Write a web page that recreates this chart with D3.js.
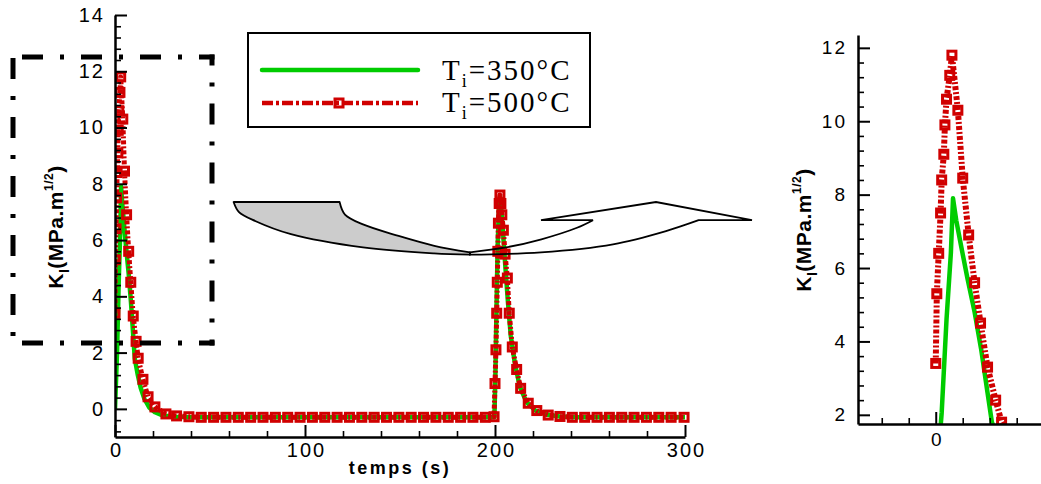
<!DOCTYPE html>
<html><head><meta charset="utf-8">
<script src="https://cdn.jsdelivr.net/npm/d3@7"></script>
<style>body{margin:0;background:#fff}svg{display:block}</style>
</head><body>
<svg id="c" width="1041" height="484"></svg>
<script>
// ---------------- data (time s, K_I MPa.m^1/2) ----------------
const redPeak1 = [[0,3.4],[0.2,5.3],[0.55,6.4],[0.9,7.5],[1.1,8.4],[1.5,9.1],[1.7,9.9],[2.0,10.6],[2.6,11.25],[3.0,11.8],
  [4.1,10.3],[5.0,8.45],[6.1,6.9],[7.2,5.6],[8.3,4.5],[9.6,3.3],[11.1,2.4],[12.2,1.8],[14.7,1.05],[17.4,0.43],[21.0,0.07],[26.8,-0.18],[32.4,-0.25]];
const redFlat1 = [[38.9,-0.28],[45.4,-0.3],[51.9,-0.3],[58.4,-0.3],[64.9,-0.3],[71.4,-0.3],[77.9,-0.3],[84.4,-0.3],[90.9,-0.3],[97.4,-0.3],
  [103.9,-0.3],[110.4,-0.3],[116.9,-0.3],[123.4,-0.3],[129.9,-0.3],[136.4,-0.3],[142.9,-0.3],[149.4,-0.3],[155.9,-0.3],[162.4,-0.3],
  [168.9,-0.3],[175.4,-0.3],[181.9,-0.3],[188.4,-0.3],[194.9,-0.3],[199.5,-0.28]];
const redPeak2 = [[200.0,0.9],[200.5,2.1],[200.9,3.4],[201.2,4.5],[201.5,5.6],[201.8,6.6],[202.2,7.3],[202.6,7.6],[203.1,7.3],[203.6,6.9],
  [204.4,6.35],[205.3,5.5],[206.5,4.65],[207.5,3.4],[209.1,2.2],[211.4,1.4],[213.5,0.73],[217.5,0.2],[222.0,-0.06],[228.0,-0.22],[234.2,-0.27]];
const redFlat2 = [[240.7,-0.3],[247.2,-0.3],[253.7,-0.3],[260.2,-0.3],[266.7,-0.3],[273.2,-0.3],[279.7,-0.3],[286.2,-0.3],[292.7,-0.3],[299.5,-0.3]];

const greenPeak1 = [[0,0],[1.1,2.05],[2.0,4.6],[2.8,6.4],[3.2,7.9],[3.8,7.3],[4.7,6.6],[5.9,5.7],[7.2,4.8],[8.4,3.8],[9.6,2.6],[10.4,1.8],
  [12.0,1.2],[13.5,0.75],[15.5,0.35],[18.0,0.05],[21.0,-0.12],[25.0,-0.23],[30.0,-0.28],[40.0,-0.3]];
const greenFlat1 = [[199.7,-0.3]];
const greenPeak2 = [[200.2,1.2],[200.8,3.6],[201.4,5.8],[202.0,7.0],[202.6,7.55],[203.2,7.2],[204.2,6.3],[205.5,5.0],[206.8,3.8],[208.3,2.6],
  [210.5,1.6],[213.0,0.8],[216.5,0.25],[221.0,-0.05],[227.0,-0.2],[234.0,-0.27],[242.0,-0.3]];
const greenFlat2 = [[300,-0.3]];

const mainXTicks = [0,100,200,300];
const mainYTicks = [0,2,4,6,8,10,12,14];
const insetXTicks = [0];
const insetYTicks = [2,4,6,8,10,12];
const seriesNames = ["350°C","500°C"];
const xTitle = "temps (s)";

// ---------------- setup ----------------
const red = "#d00000", green = "#00cc00";
const redData = redPeak1.concat(redFlat1, redPeak2, redFlat2);
const greenData = greenPeak1.concat(greenFlat1, greenPeak2, greenFlat2);
const svg = d3.select("#c");
const SANS = "'Liberation Sans', Arial, sans-serif";
const SERIF = "'Liberation Serif', 'Times New Roman', serif";

const xMain = d3.scaleLinear().domain([0,300]).range([115,685]);
const yMain = d3.scaleLinear().domain([-1,14]).range([437,15]);
const xIn = d3.scaleLinear().domain([-14.4,19.5]).range([858,1041]);
const yIn = d3.scaleLinear().domain([1.75,12.35]).range([424,35]);

const defs = svg.append("defs");
defs.append("clipPath").attr("id","clipMain").append("rect")
  .attr("x",xMain.range()[0]).attr("y",yMain.range()[1]).attr("width",xMain.range()[1]-xMain.range()[0]+8).attr("height",yMain.range()[0]-yMain.range()[1]);
defs.append("clipPath").attr("id","clipIn").append("rect")
  .attr("x",xIn.range()[0]).attr("y",yIn.range()[1]).attr("width",xIn.range()[1]-xIn.range()[0]).attr("height",yIn.range()[0]-yIn.range()[1]);

function minorVals(lo, hi, step, majors){
  return d3.range(Math.ceil(lo/step-1e-9)*step, hi+1e-9, step).map(v=>+v.toFixed(3))
    .filter(v => !majors.some(m => Math.abs(m-v)<1e-6) && v>lo+1e-6 && v<hi-1e-6);
}

function drawAxes(g, x, y, o){
  const x0 = x.range()[0], y0 = y.range()[0];
  const ym = g.append("g").attr("transform",`translate(${x0},0)`)
    .call(d3.axisLeft(y).tickValues(o.yMinor).tickSize(-6).tickFormat(""));
  ym.select(".domain").remove();
  ym.selectAll("line").attr("stroke","#000").attr("stroke-width",1.6);
  const xm = g.append("g").attr("transform",`translate(0,${y0})`)
    .call(d3.axisBottom(x).tickValues(o.xMinor).tickSize(-6).tickFormat(""));
  xm.select(".domain").remove();
  xm.selectAll("line").attr("stroke","#000").attr("stroke-width",1.6);
  const ya = g.append("g").attr("transform",`translate(${x0},0)`)
    .call(d3.axisLeft(y).tickValues(o.yMajor).tickSize(-12).tickSizeOuter(0).tickPadding(o.yPad).tickFormat(d3.format("d")));
  const xa = g.append("g").attr("transform",`translate(0,${y0})`)
    .call(d3.axisBottom(x).tickValues(o.xMajor).tickSize(-12).tickSizeOuter(0).tickPadding(o.xPad).tickFormat(d3.format("d")));
  [ya, xa].forEach(a=>{
    a.select(".domain").attr("stroke","#000").attr("stroke-width",2.5);
    a.selectAll(".tick line").attr("stroke","#000").attr("stroke-width",2);
    a.selectAll("text").attr("fill","#000").style("font-family",SANS).style("font-size",o.fs+"px").style("letter-spacing","2px");
  });
  ya.selectAll("text").attr("dx", 2);
  xa.selectAll("text").attr("dx", 1);
}

function yTitle(g, x, y){
  const t = g.append("text").attr("transform",`translate(${x},${y}) rotate(-90)`).attr("text-anchor","middle")
    .style("font-family",SANS).style("font-weight","bold").style("font-size","21px").style("letter-spacing","0.5px").attr("fill","#000");
  t.append("tspan").text("K");
  t.append("tspan").attr("dy",6).style("font-size","14px").text("I");
  t.append("tspan").attr("dy",-6).text("(MPa.m");
  t.append("tspan").attr("dy",-10).style("font-size","12px").text("1/2");
  t.append("tspan").attr("dy",10).text(")");
}

const line = (x,y)=> d3.line().x(d=>x(d[0])).y(d=>y(d[1]));

function drawSeries(g, x, y, clip, redW, markerS){
  const dg = g.append("g").attr("clip-path",`url(#${clip})`);
  dg.append("path").datum(greenData).attr("d", line(x,y)).attr("fill","none")
    .attr("stroke",green).attr("stroke-width",4.5).attr("stroke-linejoin","round");
  dg.append("path").datum(redData).attr("d", line(x,y)).attr("fill","none")
    .attr("stroke",red).attr("stroke-width",redW).attr("stroke-dasharray","4 2 2 2").attr("stroke-linejoin","round");
  dg.selectAll("rect.m").data(redData).join("rect").attr("class","m")
    .attr("x",d=>x(d[0])-markerS/2).attr("y",d=>y(d[1])-markerS/2)
    .attr("width",markerS).attr("height",markerS)
    .attr("fill","none").attr("stroke",red).attr("stroke-width",3);
}

// ---------------- main chart ----------------
const gMain = svg.append("g");
drawSeries(gMain, xMain, yMain, "clipMain", 5, 8);
drawAxes(gMain, xMain, yMain, {
  yMajor: mainYTicks, yMinor: minorVals(-1,14,0.4,mainYTicks),
  xMajor: mainXTicks, xMinor: minorVals(0,300,20,mainXTicks),
  yPad: 12, xPad: 6, fs: 20
});
yTitle(gMain, 63, 227);
gMain.append("text").attr("x",400).attr("y",474).attr("text-anchor","middle")
  .style("font-family",SANS).style("font-weight","bold").style("font-size","18px").style("letter-spacing","2.5px")
  .attr("fill","#000").text(xTitle);

// ---------------- curved 3D arrow (annotation) ----------------
const cr = d3.line().curve(d3.curveCatmullRom.alpha(0.5));
const sq = p => [p[0], 202 + (p[1]-202)*0.92];
const outerLeft = [[233.6,202],[239,213],[255.7,222.9],[291,237],[363,251.4],[434,257.9],[470,259.3]].map(sq);
const innerLeft = [[339.6,202],[345,215.7],[363,226.4],[398.6,238.9],[434.3,249.6],[470,256.8]].map(sq);
const innerRight = [[470,256.8],[505.7,251.4],[541.4,242.5],[577,230],[593,221.8]].map(sq);
const outerRight = [[470,259.3],[541,256.8],[613,248],[666,233.6],[698.6,221.8]].map(sq);
const head = [[541,221.8],[656,202],[752,221.8],[698.6,221.8]].map(sq);
const L = s => s.replace(/^M/,"L");
const grayPath = "M233.6,202L339.6,202" + L(cr(innerLeft)) + L(cr(outerLeft.slice().reverse())) + "Z";
const frontPath = cr(innerRight) + head.map(p=>"L"+p[0]+","+p[1]).join("") + L(cr(outerRight.slice().reverse())) + "Z";
svg.append("path").attr("d",grayPath).attr("fill","#cccccc").attr("stroke","#000").attr("stroke-width",1.8).attr("stroke-linejoin","round");
svg.append("path").attr("d",frontPath).attr("fill","none").attr("stroke","#000").attr("stroke-width",1.8).attr("stroke-linejoin","miter");

// ---------------- dash-dot zoom rectangle ----------------
const dd = "21 17 4 17";
const rectG = svg.append("g").attr("stroke","#000").attr("stroke-width",5).attr("fill","none").attr("stroke-dasharray",dd);
rectG.append("line").attr("x1",13).attr("y1",57).attr("x2",214.5).attr("y2",57).attr("stroke-dashoffset",-9);
rectG.append("line").attr("x1",212).attr("y1",54.5).attr("x2",212).attr("y2",345.5).attr("stroke-dashoffset",10);
rectG.append("line").attr("x1",13).attr("y1",343).attr("x2",214.5).attr("y2",343).attr("stroke-dashoffset",-9);
rectG.append("line").attr("x1",13).attr("y1",57).attr("x2",13).attr("y2",343).attr("stroke-dashoffset",-1);

// ---------------- legend ----------------
const lg = svg.append("g");
lg.append("rect").attr("x",248).attr("y",33).attr("width",342).attr("height",94).attr("fill","#fff").attr("stroke","#000").attr("stroke-width",2);
lg.append("line").attr("x1",262).attr("x2",418).attr("y1",70).attr("y2",70).attr("stroke",green).attr("stroke-width",4.5).attr("stroke-linecap","round");
lg.append("line").attr("x1",262).attr("x2",418).attr("y1",103).attr("y2",103).attr("stroke",red).attr("stroke-width",4.5).attr("stroke-dasharray","11 3 3 3");
lg.append("rect").attr("x",335).attr("y",99).attr("width",8).attr("height",8).attr("fill","none").attr("stroke",red).attr("stroke-width",3);
seriesNames.forEach((n,i)=>{
  const t = lg.append("text").attr("x",442).attr("y",80+i*32).attr("fill","#000")
    .style("font-family",SERIF).style("font-size","29px").style("letter-spacing","2px");
  t.append("tspan").text("T");
  t.append("tspan").attr("dy",7).style("font-size","18px").text("i");
  t.append("tspan").attr("dy",-7).text("=" + n);
});

// ---------------- inset ----------------
const gIn = svg.append("g");
drawSeries(gIn, xIn, yIn, "clipIn", 6, 8);
drawAxes(gIn, xIn, yIn, {
  yMajor: insetYTicks, yMinor: minorVals(1.75,12.35,0.4,insetYTicks),
  xMajor: insetXTicks, xMinor: [-10,-5,5,10,15],
  yPad: 13, xPad: 9, fs: 19
});
yTitle(gIn, 811, 230);
</script>
</body></html>
